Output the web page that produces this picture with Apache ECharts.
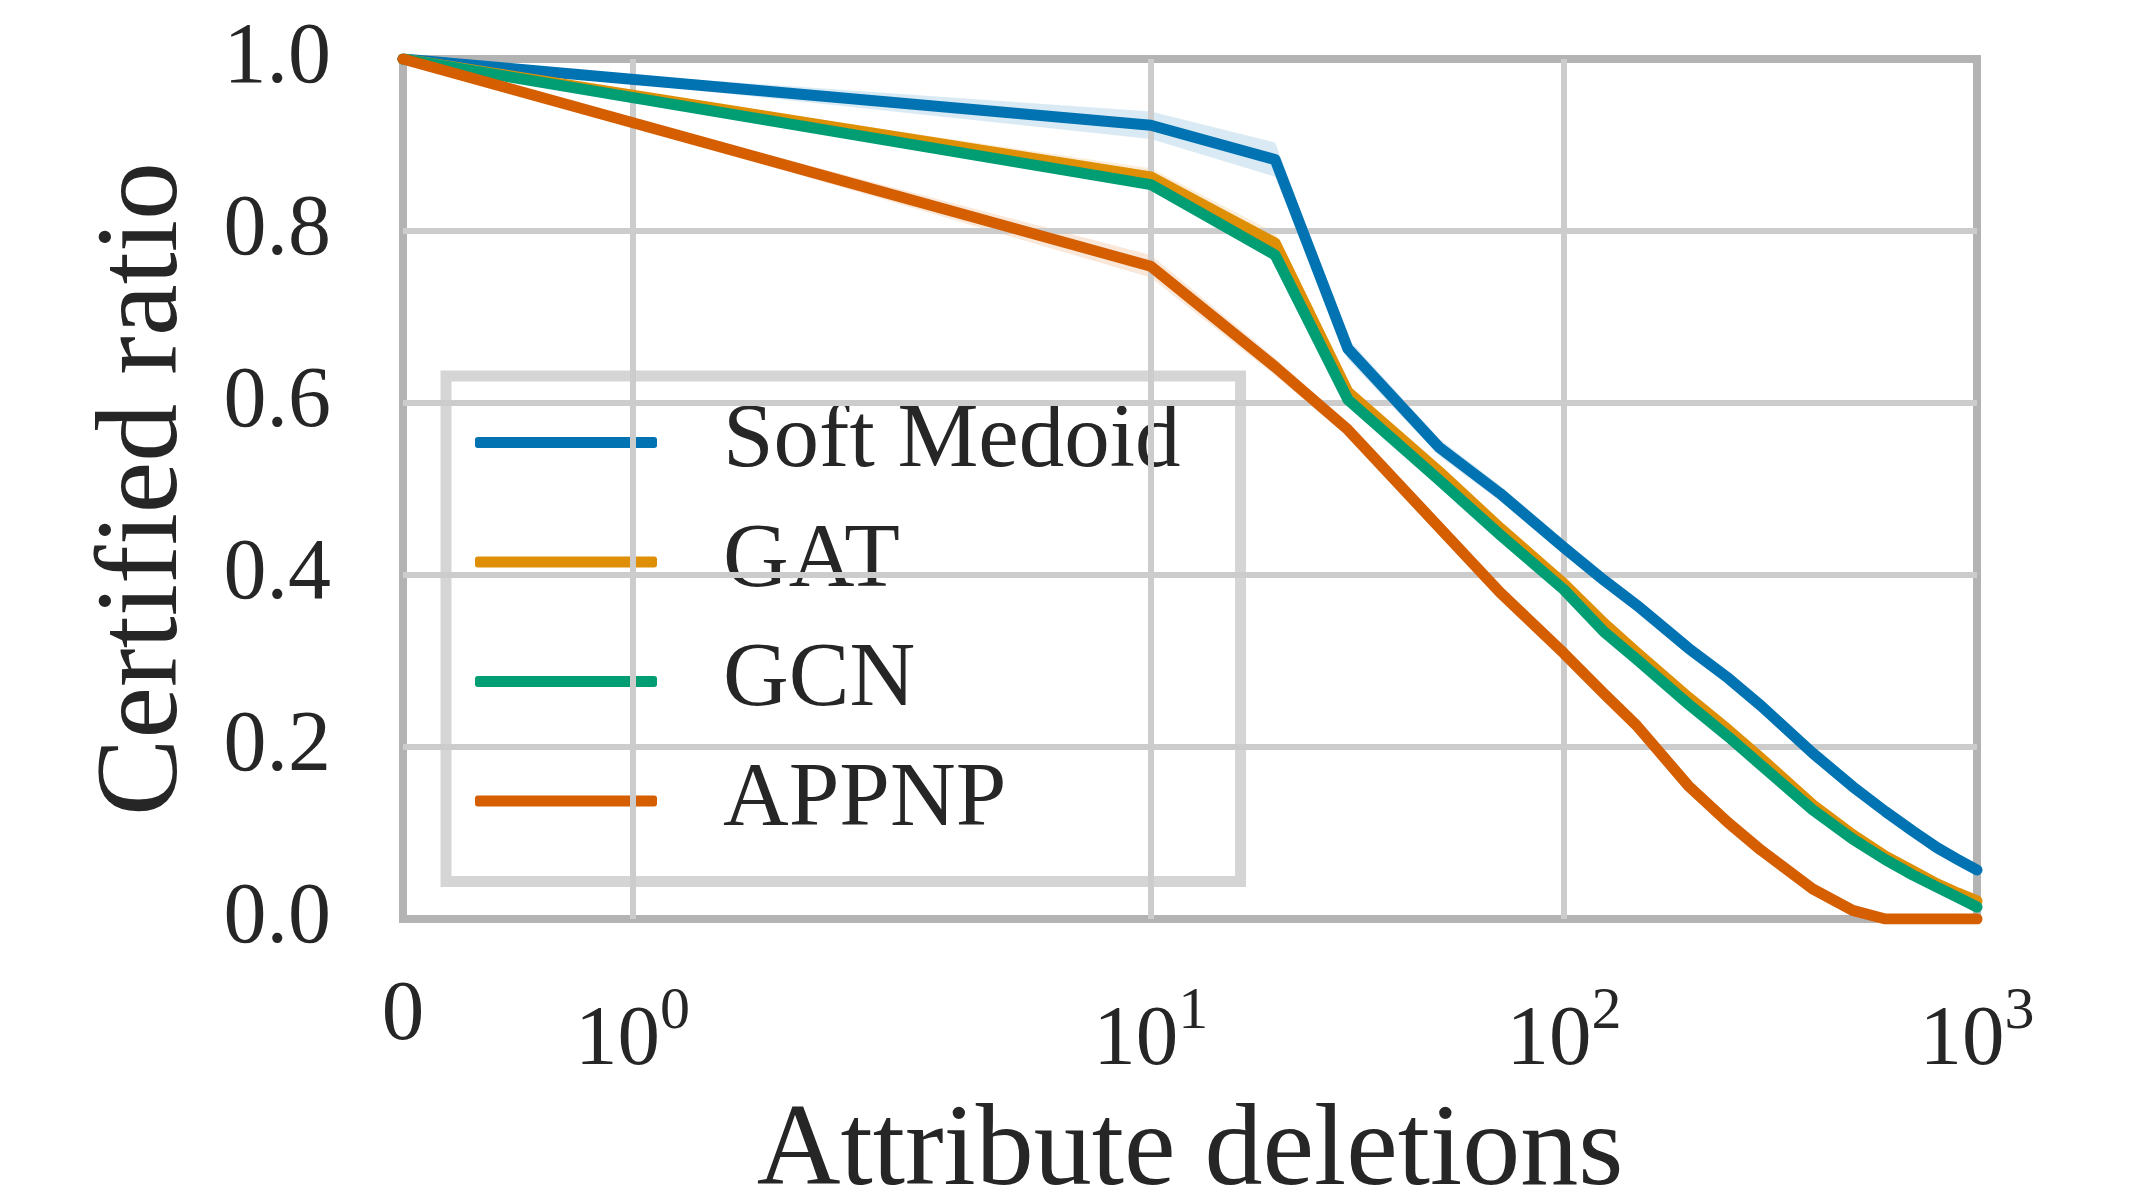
<!DOCTYPE html>
<html>
<head>
<meta charset="utf-8">
<script src="https://cdn.jsdelivr.net/npm/echarts@6/dist/echarts.min.js"></script>
<style>
    html, body { margin: 0; padding: 0; background: #fff; }
    #chartWrapper { width: 2141px; height: 1195px; }
</style>
</head>
<body>
<div id="chartWrapper"></div>
<script>
// x: number of attribute deletions, y: certified ratio
let deletions = [0, 10, 20, 30, 50, 70, 100, 125, 150, 200, 250, 300, 400, 500, 600, 700, 800, 900, 1000];
let softMedoid = [1.0, 0.923, 0.883, 0.663, 0.548, 0.495, 0.432, 0.394, 0.365, 0.315, 0.280, 0.248, 0.193, 0.154, 0.125, 0.102, 0.083, 0.069, 0.057];
let gat = [1.0, 0.863, 0.786, 0.613, 0.520, 0.455, 0.390, 0.344, 0.310, 0.258, 0.220, 0.187, 0.133, 0.098, 0.073, 0.056, 0.041, 0.030, 0.021];
let gcn = [1.0, 0.854, 0.772, 0.604, 0.510, 0.447, 0.383, 0.334, 0.302, 0.250, 0.212, 0.179, 0.127, 0.093, 0.069, 0.051, 0.037, 0.025, 0.014];
let appnp = [1.0, 0.759, 0.642, 0.569, 0.455, 0.380, 0.309, 0.262, 0.225, 0.155, 0.112, 0.080, 0.035, 0.010, 0.0, 0.0, 0.0, 0.0, 0.0];
// half width of the shaded band around each line
let softMedoidSpread = [0, 0.016, 0.020, 0.012, 0.010, 0.009, 0.008, 0.008, 0.008, 0.008, 0.007, 0.007, 0.007, 0.006, 0.006, 0.006, 0.006, 0.006, 0.006];
let gatSpread = [0, 0.010, 0.012, 0.008, 0.006, 0.006, 0.006, 0.006, 0.006, 0.006, 0.006, 0.006, 0.006, 0.006, 0.006, 0.006, 0.006, 0.006, 0.006];
let gcnSpread = [0, 0.006, 0.007, 0.006, 0.005, 0.005, 0.005, 0.005, 0.005, 0.005, 0.005, 0.005, 0.005, 0.005, 0.005, 0.005, 0.005, 0.005, 0.005];
let appnpSpread = [0, 0.013, 0.010, 0.008, 0.007, 0.007, 0.007, 0.007, 0.007, 0.007, 0.007, 0.007, 0.006, 0.005, 0.002, 0, 0, 0, 0];

let seriesNames = ['Soft Medoid', 'GAT', 'GCN', 'APPNP'];
let seriesColors = ['#0173b2', '#de8f05', '#029e73', '#d55e00'];

let xTickValues = [0, 1, 10, 100, 1000];
let xTickLabels = ['{z|0}', '10{sup|0}', '10{sup|1}', '10{sup|2}', '10{sup|3}'];
let xGridValues = [1, 10, 100];
let yGridValues = [0.2, 0.4, 0.6, 0.8];

const FONT = '"Liberation Serif", "DejaVu Serif", serif';
const TEXT_COLOR = '#262626';

// matplotlib symlog, base 10, linthresh 2, linscale 1
function symlog(x) {
    let linthresh = 2;
    let linscaleAdj = 1 / (1 - 1 / 10);
    if (Math.abs(x) <= linthresh) {
        return x * linscaleAdj;
    }
    return Math.sign(x) * linthresh * (linscaleAdj + Math.log10(Math.abs(x) / linthresh));
}

function initChart() {
    let myChart = echarts.init(document.getElementById('chartWrapper'));
    let xTickPos = xTickValues.map(symlog);
    let xMax = symlog(deletions[deletions.length - 1]);

    let lines = [softMedoid, gat, gcn, appnp];
    let spreads = [softMedoidSpread, gatSpread, gcnSpread, appnpSpread];
    let seriesData = [];

    // grid lines (drawn under everything)
    let gridMarks = [];
    xGridValues.forEach(function (v) { gridMarks.push({ xAxis: symlog(v) }); });
    yGridValues.forEach(function (v) { gridMarks.push({ yAxis: v }); });
    seriesData.push({
        name: 'grid',
        type: 'line',
        data: [[0, 0]],
        showSymbol: false,
        lineStyle: { opacity: 0 },
        z: 1,
        silent: true,
        markLine: {
            silent: true,
            symbol: ['none', 'none'],
            label: { show: false },
            lineStyle: { color: '#cccccc', width: 6, type: 'solid' },
            emphasis: { disabled: true },
            animation: false,
            data: gridMarks
        }
    });

    // shaded bands
    lines.forEach(function (vals, k) {
        let spread = spreads[k];
        seriesData.push({
            name: seriesNames[k] + ' band',
            type: 'custom',
            z: 3,
            silent: true,
            data: [[0, vals[0]]],
            renderItem: function (params, api) {
                let upper = [];
                let lower = [];
                for (let i = 0; i < deletions.length; i++) {
                    let tx = symlog(deletions[i]);
                    upper.push(api.coord([tx, vals[i] + spread[i]]));
                    lower.push(api.coord([tx, Math.max(0, vals[i] - spread[i])]));
                }
                return {
                    type: 'polygon',
                    shape: { points: upper.concat(lower.reverse()) },
                    style: { fill: seriesColors[k], opacity: 0.15 }
                };
            }
        });
    });

    // main lines
    lines.forEach(function (vals, k) {
        seriesData.push({
            name: seriesNames[k],
            type: 'line',
            z: 5 + k,
            showSymbol: false,
            symbol: 'none',
            color: seriesColors[k],
            lineStyle: { width: 11, color: seriesColors[k], cap: 'round', join: 'round' },
            emphasis: { disabled: true },
            data: deletions.map(function (d, i) { return [symlog(d), vals[i]]; })
        });
    });

    let spine = { show: true, onZero: false, lineStyle: { color: '#b3b3b3', width: 8, cap: 'square' } };

    let option = {
        animation: false,
        backgroundColor: '#ffffff',
        grid: {
            left: 403,
            right: 164,
            top: 59,
            bottom: 276,
            containLabel: false,
            outerBoundsMode: 'none'
        },
        legend: {
            data: seriesNames,
            orient: 'vertical',
            left: 446,
            top: 376,
            padding: [21, 60, 35, 29],
            itemWidth: 182,
            itemHeight: 11,
            itemGap: 28.5,
            icon: 'roundRect',
            selectedMode: false,
            backgroundColor: 'rgba(255,255,255,0.8)',
            borderColor: '#d5d5d5',
            borderWidth: 11,
            borderRadius: 0,
            textStyle: {
                fontFamily: FONT,
                fontSize: 91,
                color: TEXT_COLOR,
                lineHeight: 60,
                padding: [0, 0, 0, 61]
            }
        },
        xAxis: [{
            type: 'value',
            min: 0,
            max: xMax,
            z: 3,
            name: 'Attribute deletions',
            nameLocation: 'middle',
            nameGap: 177,
            nameMoveOverlap: false,
            nameTextStyle: { fontFamily: FONT, fontSize: 116, color: TEXT_COLOR },
            axisLine: spine,
            axisTick: { show: false },
            splitLine: { show: false },
            axisLabel: {
                customValues: xTickPos,
                margin: 55,
                fontFamily: FONT,
                fontSize: 85,
                lineHeight: 136,
                color: TEXT_COLOR,
                formatter: function (value) {
                    let idx = xTickPos.findIndex(function (p) { return Math.abs(p - value) < 1e-6; });
                    return idx >= 0 ? xTickLabels[idx] : '';
                },
                rich: {
                    z: { fontFamily: FONT, fontSize: 85, color: TEXT_COLOR, verticalAlign: 'top' },
                    sup: { fontFamily: FONT, fontSize: 60, color: TEXT_COLOR, verticalAlign: 'top', padding: [8, 0, 0, 0] }
                }
            }
        }, {
            type: 'value',
            position: 'top',
            min: 0,
            max: xMax,
            z: 3,
            axisLine: spine,
            axisTick: { show: false },
            axisLabel: { show: false },
            splitLine: { show: false }
        }],
        yAxis: [{
            type: 'value',
            min: 0,
            max: 1,
            interval: 0.2,
            z: 3,
            name: 'Certified ratio',
            nameLocation: 'middle',
            nameGap: 199,
            nameMoveOverlap: false,
            nameTextStyle: { fontFamily: FONT, fontSize: 116, color: TEXT_COLOR },
            axisLine: spine,
            axisTick: { show: false },
            splitLine: { show: false },
            axisLabel: {
                margin: 72,
                fontFamily: FONT,
                fontSize: 86,
                color: TEXT_COLOR,
                formatter: function (v) { return v.toFixed(1); }
            }
        }, {
            type: 'value',
            position: 'right',
            min: 0,
            max: 1,
            interval: 0.2,
            z: 3,
            axisLine: spine,
            axisTick: { show: false },
            axisLabel: { show: false },
            splitLine: { show: false }
        }],
        series: seriesData
    };

    myChart.setOption(option);
}

initChart();
</script>
</body>
</html>
